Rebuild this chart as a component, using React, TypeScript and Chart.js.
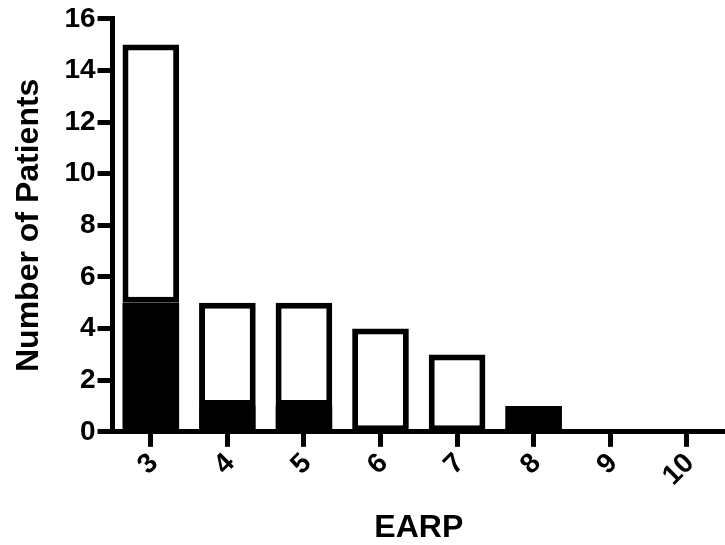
import React, { useEffect, useRef } from 'react';
import { Chart, registerables } from 'chart.js';

Chart.register(...registerables);

const categories = ['3', '4', '5', '6', '7', '8', '9', '10'];
const blackCounts = [5, 1, 1, 0, 0, 1, 0, 0];
const whiteCounts = [10, 4, 4, 4, 3, 0, 0, 0];
const yMin = 0;
const yMax = 16;
const yStep = 2;
const xTitle = 'EARP';
const yTitle = 'Number of Patients';

const nz = (arr: number[]) => arr.map((v) => (v === 0 ? null : v));

export default function App() {
  const ref = useRef<HTMLCanvasElement | null>(null);

  useEffect(() => {
    if (!ref.current) return;
    const FONT = 'Liberation Sans, Arial, Helvetica, sans-serif';
    const chart = new Chart(ref.current, {
      type: 'bar',
      data: {
        labels: categories,
        datasets: [
          {
            data: nz(blackCounts) as any,
            backgroundColor: '#000',
            borderColor: '#000',
            borderWidth: 0,
            barPercentage: 0.74,
            categoryPercentage: 1,
          },
          {
            data: nz(whiteCounts) as any,
            backgroundColor: '#fff',
            borderColor: '#000',
            borderWidth: 6,
            borderSkipped: false,
            barPercentage: 0.74,
            categoryPercentage: 1,
          },
        ],
      },
      options: {
        responsive: false,
        animation: false,
        plugins: { legend: { display: false }, tooltip: { enabled: false } },
        layout: { padding: { left: 10, right: 0, top: 4, bottom: 0 } },
        scales: {
          x: {
            stacked: true,
            offset: true,
            grid: {
              display: true,
              offset: false,
              drawOnChartArea: false,
              drawTicks: true,
              tickLength: 15,
              tickWidth: 5,
              tickColor: '#000',
            },
            border: { display: true, width: 5, color: '#000' },
            ticks: {
              color: '#000',
              font: { family: FONT, size: 28, weight: 'bold' },
              minRotation: 45,
              maxRotation: 45,
              padding: 0,
              labelOffset: 3,
            },
            title: {
              display: true,
              text: xTitle,
              color: '#000',
              font: { family: FONT, size: 32, weight: 'bold' },
              padding: { top: 16, bottom: -2 },
            },
          },
          y: {
            stacked: true,
            min: yMin,
            max: yMax,
            grid: {
              display: true,
              drawOnChartArea: false,
              drawTicks: true,
              tickLength: 15,
              tickWidth: 5,
              tickColor: '#000',
            },
            border: { display: true, width: 5, color: '#000' },
            ticks: {
              stepSize: yStep,
              color: '#000',
              font: { family: FONT, size: 28, weight: 'bold' },
              padding: 2,
            },
            title: {
              display: true,
              text: yTitle,
              color: '#000',
              font: { family: FONT, size: 32, weight: 'bold' },
              padding: { top: 0, bottom: 14 },
            },
          },
        },
      },
    });
    return () => chart.destroy();
  }, []);

  return (
    <div style={{ position: 'fixed', left: 0, top: 0, width: 725, height: 545, background: '#fff' }}>
      <canvas ref={ref} width={725} height={545} />
    </div>
  );
}
